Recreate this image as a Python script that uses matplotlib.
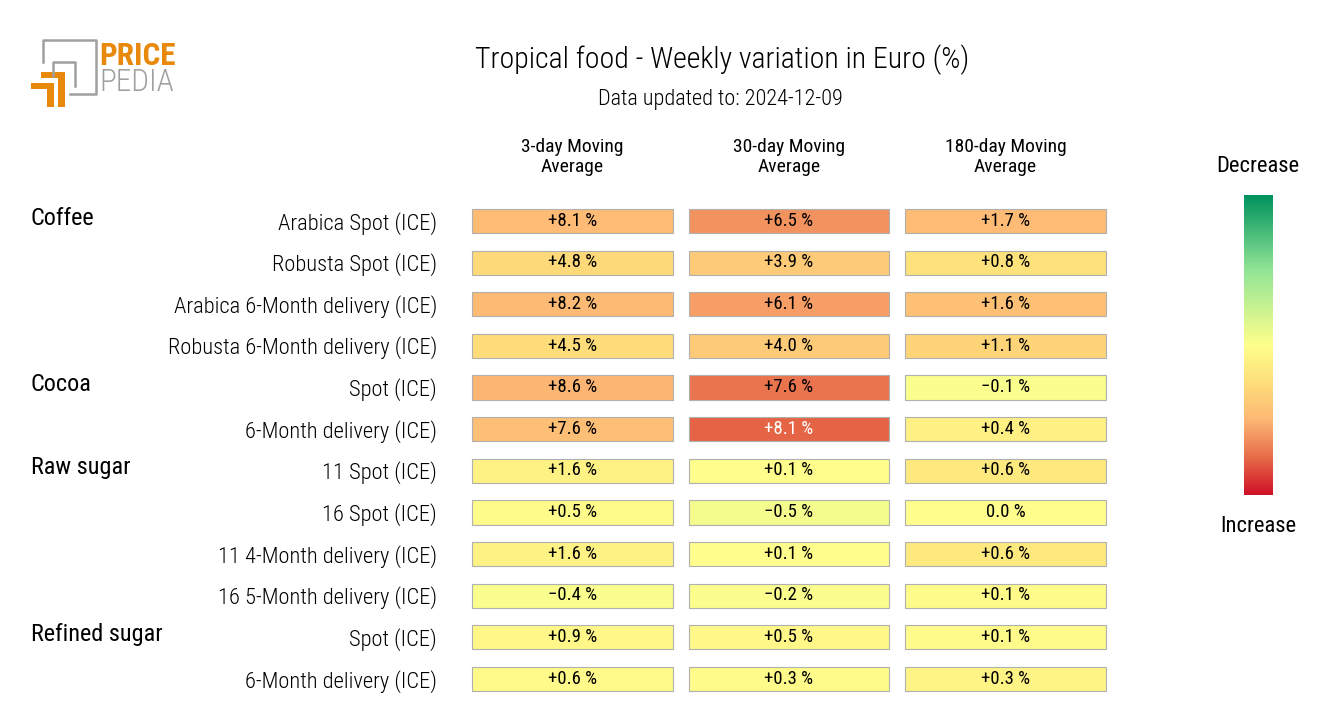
import matplotlib
matplotlib.use("Agg")
import matplotlib.pyplot as plt
import matplotlib.patches as mpatches
from matplotlib.colors import LinearSegmentedColormap
from matplotlib.transforms import blended_transform_factory
import numpy as np

plt.rcParams['font.family'] = ['Roboto Condensed', 'Roboto', 'DejaVu Sans']

# data
groups = ["Coffee", "", "", "", "Cocoa", "", "Raw sugar", "", "", "", "Refined sugar", ""]
rows = ["Arabica Spot (ICE)", "Robusta Spot (ICE)", "Arabica 6-Month delivery (ICE)",
        "Robusta 6-Month delivery (ICE)", "Spot (ICE)", "6-Month delivery (ICE)",
        "11 Spot (ICE)", "16 Spot (ICE)", "11 4-Month delivery (ICE)",
        "16 5-Month delivery (ICE)", "Spot (ICE)", "6-Month delivery (ICE)"]
columns = ["3-day Moving\nAverage", "30-day Moving\nAverage", "180-day Moving\nAverage"]
ma3 = [8.1, 4.8, 8.2, 4.5, 8.6, 7.6, 1.6, 0.5, 1.6, -0.4, 0.9, 0.6]
ma30 = [6.5, 3.9, 6.1, 4.0, 7.6, 8.1, 0.1, -0.5, 0.1, -0.2, 0.5, 0.3]
ma180 = [1.7, 0.8, 1.6, 1.1, -0.1, 0.4, 0.6, 0.0, 0.6, 0.1, 0.1, 0.3]

values = np.array([ma3, ma30, ma180]).T
col_scale = [17.0, 10.5, 3.6]  # colour range for each column

cmap = LinearSegmentedColormap.from_list("pp", [
    (0.0, "#00925e"), (0.25, "#92e596"), (0.5, "#ffff8c"),
    (0.62, "#fde07a"), (0.75, "#fdb774"), (0.87, "#e8704a"), (1.0, "#cf1128")])

fig = plt.figure(figsize=(13.2, 7.2), dpi=100)
W, H = 1320, 720

def fx(px):
    return px / W

def fy(py):
    return 1 - py / H

# table axes: columns at 0,1,2 ; rows at 0..11
x0, x1 = 464.25, 1113.75
y0, y1 = 200.2, 699.8
ax = fig.add_axes([fx(x0), fy(y1), fx(x1) - fx(x0), (y1 - y0) / H])
ax.set_xlim(-0.5, 2.5)
ax.set_ylim(len(rows) - 0.5, -0.5)
ax.axis("off")

for j in range(values.shape[1]):
    for i in range(values.shape[0]):
        v = values[i, j]
        c = cmap(0.5 + 0.5 * np.clip(v / col_scale[j], -1, 1))
        ax.barh(i, 0.928, left=j - 0.464, height=0.58, color=c,
                edgecolor="#b0b0b0", linewidth=0.8)
        lum = 0.299 * c[0] + 0.587 * c[1] + 0.114 * c[2]
        txt = "0.0 %" if v == 0 else f"{v:+.1f} %".replace("-", "\u2212")
        ax.text(j, i - 0.01, txt, ha="center", va="center", fontsize=13.5,
                color="white" if lum < 0.55 else "black")
    ax.text(j, -1.54, columns[j], ha="center", va="center", fontsize=14,
            linespacing=1.2)

tr = blended_transform_factory(fig.transFigure, ax.transData)
for i, r in enumerate(rows):
    ax.text(fx(437), i + 0.05, r, transform=tr, ha="right", va="center",
            fontsize=16.2, fontweight="light")
    if groups[i]:
        ax.text(fx(31), i - 0.07, groups[i], transform=tr, ha="left",
                va="center", fontsize=17.5)

# title
fig.text(fx(722), fy(60), "Tropical food - Weekly variation in Euro (%)",
         ha="center", va="center", fontsize=21.5, fontweight="light")
fig.text(fx(720), fy(99), "Data updated to: 2024-12-09",
         ha="center", va="center", fontsize=16, fontweight="light")

# colour bar
cax = fig.add_axes([fx(1244), fy(495), fx(1273) - fx(1244), 300 / H])
grad = np.linspace(0, 1, 256).reshape(-1, 1)
cax.imshow(grad, aspect="auto", cmap=cmap, origin="upper")
cax.set_xticks([])
cax.set_yticks([])
for s in cax.spines.values():
    s.set_visible(False)
fig.text(fx(1258), fy(166), "Decrease", ha="center", va="center", fontsize=16.2)
fig.text(fx(1258), fy(526), "Increase", ha="center", va="center", fontsize=16.2)

# logo
lax = fig.add_axes([0, 0, 1, 1])
lax.set_xlim(0, W)
lax.set_ylim(H, 0)
lax.axis("off")
gray = "#a0a0a0"
orange = "#e8890c"
lax.plot([43, 43, 96, 96, 70], [62, 40, 40, 94, 94], color=gray, lw=1.8)
lax.plot([53, 53, 75, 75], [76, 62, 62, 86], color=gray, lw=1.8)
lax.add_patch(mpatches.Polygon([[41, 72], [65, 72], [65, 107], [58, 107], [58, 78], [41, 78]],
                               closed=True, color=orange, lw=0))
lax.add_patch(mpatches.Polygon([[31, 83], [54, 83], [54, 107], [47, 107], [47, 89], [31, 89]],
                               closed=True, color=orange, lw=0))
lax.text(99, 65, "PRICE", ha="left", va="baseline", fontsize=22.5, fontweight="bold",
         color=orange)
lax.text(99, 91, "PEDIA", ha="left", va="baseline", fontsize=22.5, fontweight="light",
         color=gray)

fig.savefig("out.png", dpi=100, facecolor="white")
